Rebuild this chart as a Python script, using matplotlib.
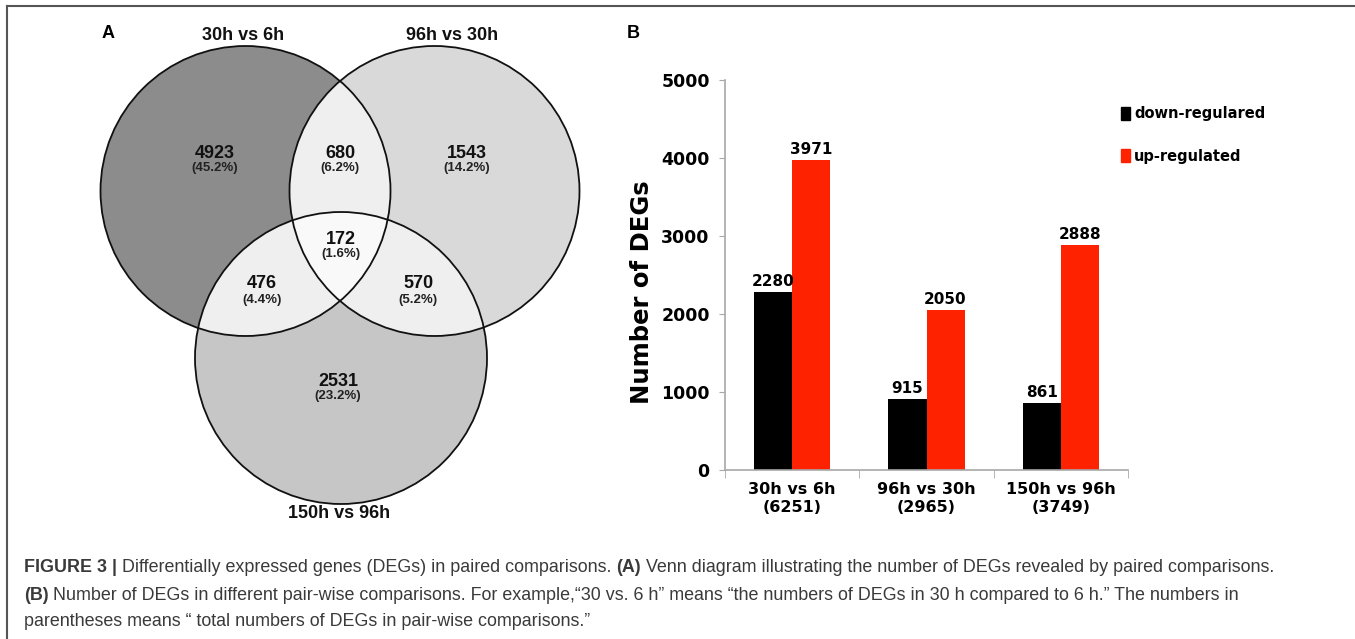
import numpy as np
import matplotlib
matplotlib.use('Agg')
import matplotlib.pyplot as plt
from matplotlib.patches import Circle, Polygon, Patch
from matplotlib.lines import Line2D

# ---- panel A: venn counts ----
set_names = ['30h vs 6h', '96h vs 30h', '150h vs 96h']
region_keys = ['100', '010', '001', '110', '101', '011', '111']
region_counts = [4923, 1543, 2531, 680, 476, 570, 172]

# ---- panel B: DEG counts ----
comparisons = ['30h vs 6h', '96h vs 30h', '150h vs 96h']
down_regulated = [2280, 915, 861]
up_regulated = [3971, 2050, 2888]

W, H = 1355, 639
fig = plt.figure(figsize=(W / 100, H / 100), dpi=100)

# pixel-space axes for the venn diagram, caption and frame
ax = fig.add_axes([0, 0, 1, 1])
ax.set_xlim(0, W)
ax.set_ylim(H, 0)
ax.axis('off')

centers = [(245.5, 191), (434.5, 191), (341, 358)]
radii = [145, 145, 146]
only_colors = ['#8c8c8c', '#d9d9d9', '#c6c6c6']
pair_color = '#efefef'
center_color = '#f9f9f9'

for c, r, col in zip(centers, radii, only_colors):
    ax.add_patch(Circle(c, r, fc=col, ec='none', zorder=1))

for i, j in [(0, 1), (0, 2), (1, 2)]:
    p = Circle(centers[j], radii[j], fc=pair_color, ec='none', zorder=2)
    ax.add_patch(p)
    p.set_clip_path(Circle(centers[i], radii[i], transform=ax.transData))

# triple overlap as a polygon of circle arcs inside all three
t = np.linspace(0, 2 * np.pi, 1440)
pts = []
for (cx, cy), r in zip(centers, radii):
    ring = np.column_stack([cx + r * np.cos(t), cy + r * np.sin(t)])
    inside = np.all([np.hypot(ring[:, 0] - ox, ring[:, 1] - oy) <= orr + 1e-6
                     for (ox, oy), orr in zip(centers, radii)], axis=0)
    pts.append(ring[inside])
pts = np.vstack(pts)
c0 = pts.mean(axis=0)
pts = pts[np.argsort(np.arctan2(pts[:, 1] - c0[1], pts[:, 0] - c0[0]))]
ax.add_patch(Polygon(pts, fc=center_color, ec='none', zorder=3))

for c, r in zip(centers, radii):
    ax.add_patch(Circle(c, r, fill=False, ec='#111111', lw=1.3, zorder=4))

venn_font = 'Liberation Sans'
label_pos = {'100': (215, 153), '010': (467, 153), '001': (338, 381),
             '110': (340, 153), '101': (262, 284), '011': (418, 284),
             '111': (341, 239)}
total = sum(region_counts)
for key, n in zip(region_keys, region_counts):
    x, y = label_pos[key]
    ax.text(x, y, str(n), ha='center', va='center', fontsize=13,
            fontweight='bold', family=venn_font, color='#111111', zorder=5)
    ax.text(x, y + 15.5, '({:.1f}%)'.format(100 * n / total), ha='center',
            va='center', fontsize=9.5, fontweight='bold', family=venn_font,
            color='#222222', zorder=5)

title_pos = [(243, 35), (452, 35), (339, 514)]
for name, (x, y) in zip(set_names, title_pos):
    ax.text(x, y, name, ha='center', va='center', fontsize=13,
            fontweight='bold', family=venn_font, color='#111111')
ax.text(102, 33, 'A', ha='left', va='center', fontsize=13,
        fontweight='bold', family=venn_font)
ax.text(627, 33, 'B', ha='left', va='center', fontsize=13,
        fontweight='bold', family=venn_font)

# frame lines (top and left)
ax.add_line(Line2D([7, W], [6, 6], color='#555555', lw=1.5))
ax.add_line(Line2D([7, 7], [6, H], color='#555555', lw=1.5))

# ---- caption with mixed weights ----
cap_font = 'Liberation Sans'
cap_size = 12.9
cap_color = '#3a3a3a'
caption = [
    [('FIGURE 3 |', 'bold'), ('Differentially expressed genes (DEGs) in paired comparisons.', 'normal'),
     ('(A)', 'bold'), ('Venn diagram illustrating the number of DEGs revealed by paired comparisons.', 'normal')],
    [('(B)', 'bold'), ('Number of DEGs in different pair-wise comparisons. For example,\u201c30 vs. 6 h\u201d means '
                       '\u201cthe numbers of DEGs in 30 h compared to 6 h.\u201d The numbers in', 'normal')],
    [('parentheses means \u201c total numbers of DEGs in pair-wise comparisons.\u201d', 'normal')],
]
line_y = [568, 595, 621]
for pieces, y in zip(caption, line_y):
    prev = None
    for txt, wt in pieces:
        if prev is None:
            prev = ax.text(24, y, txt, ha='left', va='center', fontsize=cap_size,
                           fontweight=wt, family=cap_font, color=cap_color)
        else:
            prev = ax.annotate(txt, xy=(1, 0), xycoords=prev, xytext=(3.5, 0),
                               textcoords='offset points', ha='left', va='bottom',
                               fontsize=cap_size, fontweight=wt, family=cap_font,
                               color=cap_color)

# ---- panel B: bar chart ----
axb = fig.add_axes([725 / W, 1 - 470 / H, 403 / W, 390 / H])
x = np.arange(len(comparisons))
bw = 0.283
bars_down = axb.bar(x - bw / 2, down_regulated, bw, color='black', label='down-regulared')
bars_up = axb.bar(x + bw / 2, up_regulated, bw, color='#ff2200', label='up-regulated')
for b in (bars_down, bars_up):
    axb.bar_label(b, padding=2, fontsize=11, fontweight='bold', family='DejaVu Sans')

axb.set_xlim(-0.5, 2.5)
axb.set_ylim(0, 5000)
axb.set_yticks(range(0, 5001, 1000))
axb.set_xticks(x)
axb.set_xticklabels(['{}\n({})'.format(c, d + u) for c, d, u in
                     zip(comparisons, down_regulated, up_regulated)],
                    fontsize=11.5, fontweight='bold', family='DejaVu Sans',
                    linespacing=1.2)
axb.set_xticks([-0.5, 0.5, 1.5, 2.5], minor=True)
axb.tick_params(axis='x', which='major', length=0, pad=9)
axb.tick_params(axis='x', which='minor', length=6, color='#a8a8a8', direction='out')
axb.tick_params(axis='y', length=4, color='#a8a8a8', pad=7)
for lab in axb.get_yticklabels():
    lab.set_fontsize(12.5)
    lab.set_fontweight('bold')
    lab.set_family('DejaVu Sans')
for s in ['top', 'right']:
    axb.spines[s].set_visible(False)
for s in ['left', 'bottom']:
    axb.spines[s].set_color('#a8a8a8')
    axb.spines[s].set_linewidth(1.2)
axb.set_ylabel('Number of DEGs', fontsize=17.5, fontweight='bold',
               family='DejaVu Sans')
axb.yaxis.set_label_coords(-0.175, 0.455)
axb.set_facecolor('none')

fig.legend(handles=[Patch(color='black'), Patch(color='#ff2200')],
           labels=['down-regulared', 'up-regulated'],
           loc='upper left', bbox_to_anchor=(1108 / W, 1 - 93 / H),
           frameon=False, handlelength=0.6, handleheight=1.0,
           handletextpad=0.3, labelspacing=1.9,
           prop={'family': 'DejaVu Sans', 'weight': 'bold', 'size': 10.5})

fig.savefig('out.png', dpi=100)
